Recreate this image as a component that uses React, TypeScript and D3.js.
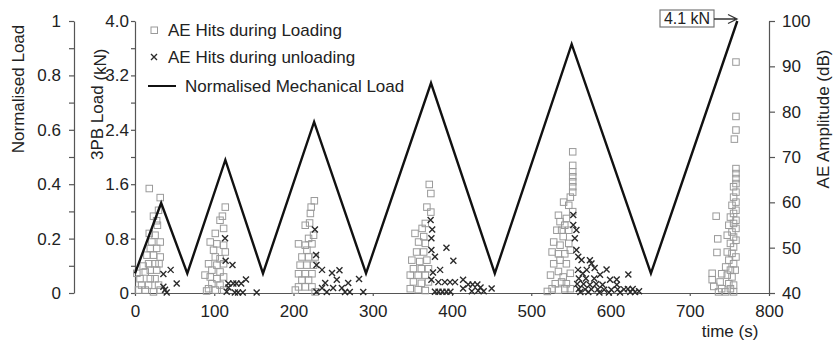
import React, {useRef, useEffect} from 'react'
import * as d3 from 'd3'

// mechanical load cycle: time (s) and normalised load
const loadTime = [0, 33, 66, 114, 161.5, 226, 291.5, 373.5, 454, 551, 651, 760]
const loadNorm = [0.072, 0.331, 0.072, 0.489, 0.072, 0.629, 0.072, 0.772, 0.072, 0.915, 0.072, 1.0]

// AE hits during loading: [time (s), amplitude (dB)]
const hitsLoading: [number, number][] = [
  [2, 44.4], [4, 40.7], [6, 43.2], [8, 41.8], [10, 46], [12.6, 44.7], [12.6, 40.7], [14.7, 48.4],
  [16.8, 46.5], [16.8, 41.8], [17.7, 63.1], [17.7, 53.2], [19, 49.9], [19, 45.1], [19, 43.2],
  [21, 51.3], [23, 57], [23, 48.4], [23, 40.3], [25, 52.8], [25, 46.5], [25, 43.2], [27, 49.9],
  [27, 45.1], [27, 56], [29.4, 58.3], [29.4, 41.8], [30, 46.5], [31.5, 61.1], [31.5, 51.3],
  [31.5, 48], [31.5, 40.7], [28, 55],
  [92.5, 46.5], [92.5, 41], [94.6, 51.3], [94.6, 43.6], [96.7, 45.1], [96.7, 42.1], [98.8, 49.5],
  [101, 53.2], [101, 48], [101, 40.7], [103, 50.9], [103, 46.2], [103, 43.2], [107, 56.1],
  [107, 47.6], [107, 44.7], [107, 41.8], [111.5, 54.3], [111.5, 50.6], [111.5, 46.5],
  [111.5, 43.6], [111.5, 40.7], [113.6, 59], [113.6, 49.1], [110, 57], [88, 44], [90, 40.5],
  [226, 60.4], [222, 59], [221, 57.6], [214.5, 55], [225, 52.8], [218.7, 52.1], [206, 50.9],
  [214.5, 50.6], [223, 50.9], [216.6, 49.5], [210.3, 48], [218.7, 48], [227, 48], [208, 46.2],
  [216.6, 46.2], [225, 46.2], [206, 44.3], [214.5, 44.3], [223, 44.3], [210.3, 42.9],
  [218.7, 42.9], [206, 41.4], [214.5, 41.4], [223, 41.4], [202, 40.7], [227, 40.3], [220, 55.5],
  [371, 64], [368, 59], [373, 57.9], [366, 55.4], [362, 54.3], [353, 53.2], [364, 52.5],
  [357.5, 51.3], [366, 51], [355, 49.1], [364, 49.1], [349, 47.3], [359, 47], [368, 47.3],
  [351, 45.4], [361, 45.4], [370, 45.4], [347, 44], [357, 44], [366, 44], [351, 42.5],
  [361, 42.2], [370, 42.5], [347, 41], [357, 40.8], [366, 40.6], [373, 62],
  [552, 71.2], [552, 68.2], [552, 66.8], [552, 65.7], [552, 64.6], [552, 63.5], [552, 62.3],
  [549, 61.2], [540.5, 60.1], [547, 59.4], [534, 57.2], [544, 56.5], [536, 55.8], [542, 55],
  [532, 53.9], [538, 53.9], [547, 53.9], [540, 52.5], [528, 51.3], [536, 50.6], [547, 51],
  [526, 49.1], [534, 48.7], [542, 48.7], [549, 49.5], [528, 46.5], [536, 47.3], [544, 46.5],
  [524, 44], [534, 44.8], [540, 43.6], [549, 44.4], [530, 42.1], [538, 42.5], [544, 42.1],
  [526, 41], [534, 40.7], [542, 41], [549, 41], [520, 40.4], [552, 58],
  [758, 91], [758, 79], [758, 76], [756, 74], [758, 67.5], [758, 66.4], [758, 65.3], [758, 64.2],
  [755, 63.5], [758, 62.3], [755, 61.2], [758, 60.1], [753, 59.4], [758, 58.3], [755, 57.6],
  [751, 56.8], [758, 56.1], [755, 55.4], [749, 55], [758, 54.3], [753, 53.5], [747, 52.8],
  [755, 52.4], [758, 51.7], [751, 51], [755, 50.2], [747, 49.1], [753, 48.8], [758, 48],
  [749, 47.3], [755, 46.5], [745, 45.8], [751, 45.1], [757, 45.1], [740, 44.3], [747, 44],
  [753, 43.6], [738, 42.5], [749, 42.1], [755, 41.8], [740, 41], [751, 41],
  [733, 57], [735, 52], [734, 49], [728, 44.4], [728, 43], [730, 41.5], [736, 40.3], [745, 40.3],
  [755, 40.3],
]

// AE hits during unloading: [time (s), amplitude (dB)]
const hitsUnloading: [number, number][] = [
  [35.8, 44.2], [45, 45.1], [52.6, 42.1], [37.9, 40.7], [40, 40.1], [35.8, 41.4],
  [113.6, 52.1], [114.4, 47.1], [123, 46.2], [117.8, 42.1], [124, 42.1], [128, 42.1], [134, 42.1],
  [140, 43], [115.7, 40.3], [126, 40.1], [130, 40.1], [136, 40.1], [153.5, 40.1], [118, 41.2],
  [227, 54], [228.5, 48.4], [229, 46.2], [236, 45.1], [248.6, 44.4], [240, 42.2], [254.6, 42.9],
  [269, 42.2], [282.7, 43.1], [236, 41.1], [250, 41.1], [261, 41.1], [229, 40.3], [242, 40.2],
  [265, 40.2], [271, 40.2], [288, 40.2], [258, 45],
  [373, 56.1], [374, 52.1], [393, 50], [374, 49.5], [378.5, 48], [401.7, 47.1], [385, 45.1],
  [374, 42.9], [382.8, 42.4], [391, 42.4], [397.5, 42.4], [403.8, 42.4], [414, 42.9],
  [420.5, 41.9], [426, 41.9], [432, 41.9], [436, 41.2], [450, 41], [378.5, 40.3], [383, 40.3],
  [388, 40.3], [393, 40.3], [398, 40.3], [414, 41], [425, 40.4], [433, 40.5], [440, 40.4],
  [375, 54], [376, 44.5],
  [553, 57.2], [557, 53.9], [555, 52.1], [557, 49.5], [559.3, 48], [563.5, 47.3], [576, 46.5],
  [574, 47.2], [595, 45.2], [559, 45.1], [570, 45.1], [586.8, 44], [622.5, 44.1], [560, 43.2],
  [569, 43.2], [579.5, 43.2], [599.4, 42.9], [607.8, 43], [558, 42], [566, 42], [574, 41.8],
  [582, 42], [590, 41.8], [608, 41.8], [560, 40.9], [568, 40.8], [576, 40.8], [584, 40.8],
  [592, 40.7], [601, 40.7], [609, 40.8], [617, 40.8], [622, 40.9], [628, 40.9], [562, 40.2],
  [572, 40.2], [586, 40.1], [598, 40.1], [612, 40.1], [625, 40.2], [631, 40.2], [565, 44.3],
  [580, 45.5], [553, 55], [636, 40.4],
]

const legendLabels = ['AE Hits during Loading', 'AE Hits during unloading', 'Normalised Mechanical Load']
const peakLabel = '4.1 kN'

const FONT = '"Liberation Sans", Arial, sans-serif'
const axisColor = '#555'
const textColor = '#222'

function App() {
  const ref: any = useRef<SVGSVGElement>(null)

  useEffect(() => {
    const svg = d3.select(ref.current)

    const x = d3.scaleLinear().domain([0, 800]).range([135, 769])
    const yNorm = d3.scaleLinear().domain([0, 1]).range([293, 21])
    const yKn = d3.scaleLinear().domain([0, 4]).range([293, 21])
    const yAmp = d3.scaleLinear().domain([40, 100]).range([293, 21])

    const styleAxis = (g: any) => {
      g.attr('font-family', FONT).attr('font-size', 17)
      g.select('.domain').attr('stroke', axisColor).attr('stroke-width', 1.2)
      g.selectAll('.tick line').attr('stroke', axisColor).attr('stroke-width', 1.2)
      g.selectAll('.tick text').attr('fill', textColor)
    }

    // normalised load axis
    const normAxis = d3
      .axisLeft(yNorm)
      .tickValues(d3.range(0, 11).map(i => i / 10))
      .tickFormat((d: any, i: number) => (i % 2 ? '' : i === 0 ? '0' : i === 10 ? '1' : d3.format('.1f')(d)))
      .tickSize(5)
      .tickSizeOuter(0)
      .tickPadding(8)
    svg.select('.norm-axis').attr('transform', 'translate(74,0)').call(normAxis as any).call(styleAxis)

    // 3PB load axis
    const knAxis = d3
      .axisLeft(yKn)
      .tickValues(d3.range(0, 11).map(i => i * 0.4))
      .tickFormat((d: any, i: number) => (i % 2 ? '' : i === 0 ? '0' : d3.format('.1f')(d)))
      .tickSize(4)
      .tickSizeOuter(0)
      .tickPadding(2)
    svg.select('.kn-axis').attr('transform', 'translate(135,0)').call(knAxis as any).call(styleAxis)

    // amplitude axis
    const ampAxis = d3.axisRight(yAmp).ticks(6).tickSize(6).tickSizeOuter(0).tickPadding(7)
    svg.select('.amp-axis').attr('transform', 'translate(769,0)').call(ampAxis as any).call(styleAxis)

    // time axis
    const timeAxis = d3.axisBottom(x).ticks(8).tickSize(3).tickSizeOuter(0).tickPadding(9)
    svg.select('.x-axis').attr('transform', 'translate(0,293)').call(timeAxis as any).call(styleAxis)

    // loading hits - open squares
    const sq = svg.select('.hits-loading')
    sq.selectAll('*').remove()
    sq.selectAll('rect')
      .data(hitsLoading)
      .enter()
      .append('rect')
      .attr('x', d => x(d[0]) - 3)
      .attr('y', d => yAmp(d[1]) - 3)
      .attr('width', 6.5)
      .attr('height', 6.5)
      .attr('fill', 'none')
      .attr('stroke', '#9a9a9a')
      .attr('stroke-width', 1)

    // unloading hits - x markers
    const xm = svg.select('.hits-unloading')
    xm.selectAll('*').remove()
    const xPath = 'M-3,-3L3,3M3,-3L-3,3'
    xm.selectAll('path')
      .data(hitsUnloading)
      .enter()
      .append('path')
      .attr('transform', d => `translate(${x(d[0])},${yAmp(d[1])})`)
      .attr('d', xPath)
      .attr('fill', 'none')
      .attr('stroke', '#2a2a2a')
      .attr('stroke-width', 1.4)

    // load line
    const line = d3
      .line<number>()
      .x((d, i) => x(loadTime[i]))
      .y(d => yNorm(d))
    svg.select('.load-line').attr('d', line(loadNorm) as string)

    // legend markers
    const lg = svg.select('.legend')
    lg.selectAll('*').remove()
    lg.append('rect').attr('x', 151).attr('y', 27).attr('width', 6.5).attr('height', 6.5)
      .attr('fill', 'none').attr('stroke', '#9a9a9a')
    lg.append('path').attr('transform', 'translate(154,57)').attr('d', xPath)
      .attr('fill', 'none').attr('stroke', '#2a2a2a').attr('stroke-width', 1.4)
    lg.append('line').attr('x1', 148).attr('x2', 176).attr('y1', 86).attr('y2', 86)
      .attr('stroke', '#111').attr('stroke-width', 2)
    ;[30, 57, 86].forEach((yy, i) => {
      lg.append('text').attr('x', 168 + (i === 2 ? 17 : 0)).attr('y', yy + 6)
        .attr('font-family', FONT).attr('font-size', 17).attr('fill', textColor)
        .text(legendLabels[i])
    })
  }, [])

  return (
    <svg ref={ref} width={838} height={345} style={{position: 'absolute', left: 0, top: 0, background: '#fff'}}>
      <g className="norm-axis" />
      <g className="kn-axis" />
      <g className="amp-axis" />
      <g className="x-axis" />
      <g className="hits-loading" />
      <g className="hits-unloading" />
      <path className="load-line" fill="none" stroke="#111" strokeWidth={2.4} strokeLinejoin="miter" />
      <g className="legend" />
      {/* axis titles */}
      <text transform="translate(24,89) rotate(-90)" textAnchor="middle" fontFamily={FONT} fontSize={17} fill={textColor}>
        Normalised Load
      </text>
      <text transform="translate(103,160) rotate(-90)" fontFamily={FONT} fontSize={17} fill={textColor}>
        3PB Load<tspan dy={3}> (kN)</tspan>
      </text>
      <text transform="translate(829,119) rotate(-90)" textAnchor="middle" fontFamily={FONT} fontSize={17} fill={textColor}>
        AE Amplitude (dB)
      </text>
      <text x={730} y={337} textAnchor="middle" fontFamily={FONT} fontSize={17} fill={textColor}>
        time (s)
      </text>
      {/* peak annotation */}
      <rect x={660} y={10} width={54} height={17} fill="#fff" stroke="#777" strokeWidth={1.2} />
      <text x={687} y={24} textAnchor="middle" fontFamily={FONT} fontSize={16} fill={textColor}>
        {peakLabel}
      </text>
      <path d="M714,19H737M728,14.5L737,19L728,23.5" fill="none" stroke="#333" strokeWidth={1.3} />
    </svg>
  )
}

export default App
